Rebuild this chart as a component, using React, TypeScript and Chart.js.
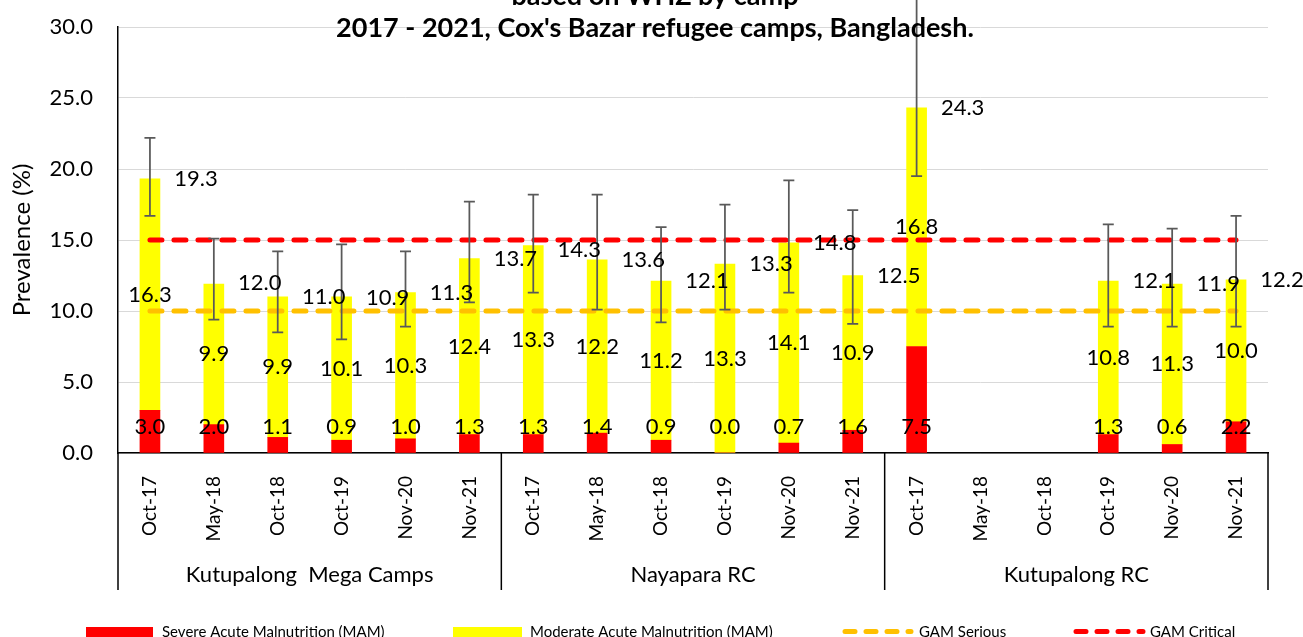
import React, { useEffect, useRef } from "react";
import { Chart, registerables } from "chart.js";

Chart.register(...registerables);

const FONT = 'Lato, "Noto Sans", sans-serif';

const categories = [
  "Oct-17", "May-18", "Oct-18", "Oct-19", "Nov-20", "Nov-21",
  "Oct-17", "May-18", "Oct-18", "Oct-19", "Nov-20", "Nov-21",
  "Oct-17", "May-18", "Oct-18", "Oct-19", "Nov-20", "Nov-21",
];
const groups = ["Kutupalong  Mega Camps", "Nayapara RC", "Kutupalong RC"];
const groupSize = 6;

const samValues = [3.0, 2.0, 1.1, 0.9, 1.0, 1.3, 1.3, 1.4, 0.9, 0.0, 0.7, 1.6, 7.5, null, null, 1.3, 0.6, 2.2];
const mamValues = [16.3, 9.9, 9.9, 10.1, 10.3, 12.4, 13.3, 12.2, 11.2, 13.3, 14.1, 10.9, 16.8, null, null, 10.8, 11.3, 10.0];
const gamValues = [19.3, 12.0, 11.0, 10.9, 11.3, 13.7, 14.3, 13.6, 12.1, 13.3, 14.8, 12.5, 24.3, null, null, 12.1, 11.9, 12.2];
const ciLow = [16.7, 9.4, 8.5, 8.0, 8.9, 10.6, 11.3, 10.1, 9.2, 10.1, 11.3, 9.1, 19.5, null, null, 8.9, 8.9, 8.9];
const ciHigh = [22.2, 15.1, 14.2, 14.7, 14.2, 17.7, 18.2, 18.2, 15.9, 17.5, 19.2, 17.1, 32.5, null, null, 16.1, 15.8, 16.7];
const gamSerious = [10, 10, 10, 10, 10, 10, 10, 10, 10, 10, 10, 10, 10, 10, 10, 10, 10, 10];
const gamCritical = [15, 15, 15, 15, 15, 15, 15, 15, 15, 15, 15, 15, 15, 15, 15, 15, 15, 15];

const titleLines = ["based on WHZ by camp", "2017 - 2021, Cox's Bazar refugee camps, Bangladesh."];
const yTicks = { min: 0, max: 30, step: 5 };

const RED = "#FF0000";
const YELLOW = "#FFFF00";
const ORANGE = "#FFC000";

const overlayPlugin = {
  id: "overlay",
  afterDatasetsDraw(chart: any) {
    const { ctx, scales } = chart;
    const x = scales.x;
    const y = scales.y;
    ctx.save();
    // error bars
    ctx.strokeStyle = "#595959";
    ctx.lineWidth = 1.75;
    for (let i = 0; i < categories.length; i++) {
      const lo = ciLow[i];
      const hi = ciHigh[i];
      if (lo == null || hi == null) continue;
      const px = x.getPixelForValue(i);
      const yl = y.getPixelForValue(lo);
      const yh = y.getPixelForValue(hi);
      ctx.beginPath();
      ctx.moveTo(px, yh);
      ctx.lineTo(px, yl);
      ctx.moveTo(px - 5.5, yh);
      ctx.lineTo(px + 5.5, yh);
      ctx.moveTo(px - 5.5, yl);
      ctx.lineTo(px + 5.5, yl);
      ctx.stroke();
    }
    // data labels
    ctx.font = `22px ${FONT}`;
    ctx.fillStyle = "#000";
    ctx.textAlign = "center";
    ctx.textBaseline = "middle";
    const base = y.getPixelForValue(0);
    for (let i = 0; i < categories.length; i++) {
      const s = samValues[i];
      const m = mamValues[i];
      const g = gamValues[i];
      const px = x.getPixelForValue(i);
      if (s != null) ctx.fillText(s.toFixed(1), px, base - 26);
      if (m != null && s != null) ctx.fillText(m.toFixed(1), px, y.getPixelForValue(s + m / 2));
      if (g != null) ctx.fillText(g.toFixed(1), px + 46, y.getPixelForValue(g));
    }
    ctx.restore();
  },
  afterDraw(chart: any) {
    const { ctx, scales } = chart;
    const x = scales.x;
    ctx.save();
    // title
    ctx.fillStyle = "#000";
    ctx.textAlign = "center";
    ctx.textBaseline = "alphabetic";
    ctx.font = `bold 27px ${FONT}`;
    ctx.fillText(titleLines[0], 655, 5);
    ctx.fillText(titleLines[1], 655, 37);

    // group separators and labels
    const n = categories.length;
    const step = x.width / n;
    ctx.strokeStyle = "#000";
    ctx.lineWidth = 1.5;
    for (let b = 0; b <= n; b += groupSize) {
      const xx = x.left + b * step;
      ctx.beginPath();
      ctx.moveTo(xx, x.top);
      ctx.lineTo(xx, 590);
      ctx.stroke();
    }
    ctx.font = `22px ${FONT}`;
    ctx.textBaseline = "middle";
    groups.forEach((g, gi) => {
      const cx = x.left + (gi * groupSize + groupSize / 2) * step;
      ctx.fillText(g, cx, 575);
    });

    // legend
    ctx.font = `15px ${FONT}`;
    ctx.textAlign = "left";
    ctx.textBaseline = "middle";
    ctx.fillStyle = RED;
    ctx.fillRect(86, 627, 67, 10);
    ctx.fillStyle = YELLOW;
    ctx.fillRect(453, 627, 69, 10);
    ctx.lineWidth = 5;
    ctx.lineCap = "round";
    ctx.setLineDash([10, 11]);
    ctx.strokeStyle = ORANGE;
    ctx.beginPath();
    ctx.moveTo(845, 631.5);
    ctx.lineTo(911, 631.5);
    ctx.stroke();
    ctx.strokeStyle = RED;
    ctx.beginPath();
    ctx.moveTo(1076, 631.5);
    ctx.lineTo(1143, 631.5);
    ctx.stroke();
    ctx.setLineDash([]);
    ctx.fillStyle = "#000";
    ctx.fillText("Severe Acute Malnutrition (MAM)", 162, 632);
    ctx.fillText("Moderate Acute Malnutrition (MAM)", 530, 632);
    ctx.fillText("GAM Serious", 919, 632);
    ctx.fillText("GAM Critical", 1150, 632);
    ctx.restore();
  },
};

export default function App() {
  const canvasRef = useRef<HTMLCanvasElement | null>(null);

  useEffect(() => {
    const canvas = canvasRef.current;
    if (!canvas) return;
    Chart.defaults.font.family = FONT;
    const chart = new Chart(canvas, {
      type: "bar",
      data: {
        labels: categories,
        datasets: [
          {
            type: "bar",
            label: "Severe Acute Malnutrition (MAM)",
            data: samValues as any,
            backgroundColor: RED,
            barThickness: 20,
            stack: "bars",
            order: 3,
          },
          {
            type: "bar",
            label: "Moderate Acute Malnutrition (MAM)",
            data: mamValues as any,
            backgroundColor: YELLOW,
            barThickness: 20,
            stack: "bars",
            order: 3,
          },
          {
            type: "line",
            label: "GAM Serious",
            data: gamSerious,
            borderColor: ORANGE,
            borderWidth: 5,
            borderDash: [12, 12],
            borderCapStyle: "round",
            pointRadius: 0,
            fill: false,
            stack: "serious",
            order: 1,
          } as any,
          {
            type: "line",
            label: "GAM Critical",
            data: gamCritical,
            borderColor: RED,
            borderWidth: 5,
            borderDash: [12, 12],
            borderCapStyle: "round",
            pointRadius: 0,
            fill: false,
            stack: "critical",
            order: 1,
          } as any,
        ],
      },
      options: {
        responsive: false,
        animation: false,
        devicePixelRatio: 1,
        layout: { padding: { top: 27, right: 35, left: 0, bottom: 0 } },
        plugins: {
          legend: { display: false },
          title: { display: false },
          tooltip: { enabled: false },
        },
        scales: {
          x: {
            stacked: true,
            grid: { display: false },
            border: { display: true, color: "#000", width: 1.5 },
            ticks: {
              autoSkip: false,
              maxRotation: 90,
              minRotation: 90,
              padding: 15,
              color: "#000",
              font: { size: 19, family: FONT },
            },
            afterFit(scale: any) {
              scale.height = 184;
              scale.paddingLeft = 0;
              scale.paddingRight = 0;
            },
          },
          y: {
            stacked: true,
            min: yTicks.min,
            max: yTicks.max,
            grid: { color: "#D9D9D9", lineWidth: 1, drawTicks: false },
            border: { display: true, color: "#000", width: 1.5 },
            ticks: {
              stepSize: yTicks.step,
              padding: 25,
              color: "#000",
              font: { size: 22, family: FONT },
              callback: (v: any) => Number(v).toFixed(1),
            },
            title: {
              display: true,
              text: "Prevalence (%)",
              color: "#000",
              font: { size: 24, family: FONT },
              padding: { top: 8, bottom: 0 },
            },
            afterFit(scale: any) {
              scale.width = 118;
              scale.paddingTop = 0;
              scale.paddingBottom = 0;
            },
          },
        },
      },
      plugins: [overlayPlugin],
    });
    return () => chart.destroy();
  }, []);

  return (
    <div style={{ position: "absolute", left: 0, top: 0, width: 1303, height: 637, background: "#fff" }}>
      <canvas ref={canvasRef} width={1303} height={637} style={{ display: "block" }} />
    </div>
  );
}
